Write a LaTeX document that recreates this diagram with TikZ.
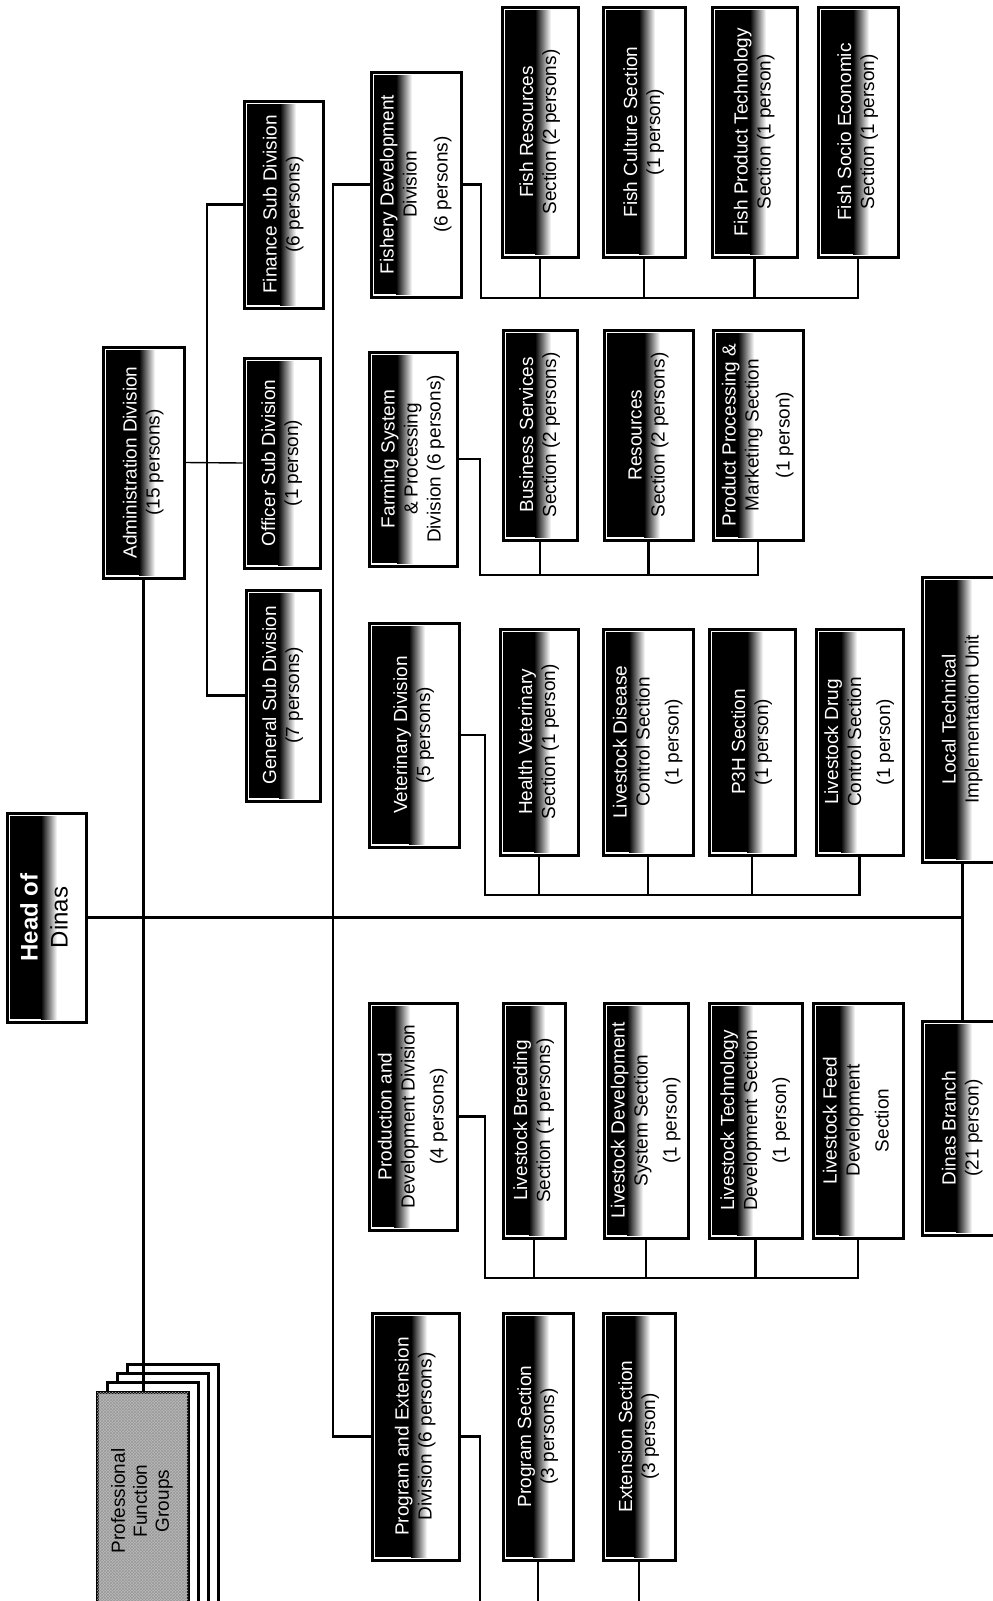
\documentclass[tikz,border=0pt]{standalone}
\usepackage{fontspec}
\setmainfont{Liberation Sans}
\usepackage{graphicx}
\usetikzlibrary{patterns,calc}
\newcommand\rtxt[1]{\rotatebox{90}{\begin{tabular}{@{}c@{}}#1\end{tabular}}}
\newcommand\wt[1]{\textcolor{white}{#1}}
% #1 options, #2 name, #3 x1, #4 y1, #5 x2, #6 y2, #7 black width, #8 text
\newcommand\orgbox[8][]{%
  \fill[boxblack] ({#3+3},{#4+3}) rectangle ({#3+3+#7},{#6-3});
  \shade[boxfade] ({#3+3+#7},{#4+3}) rectangle ({#3+19+#7},{#6-3});
  \node[orgnode,minimum width={#5-#3},minimum height={#6-#4},#1] (#2) at ({(#3+#5)/2},{(#4+#6)/2}) {\rtxt{#8}};
}
\begin{document}
\begin{tikzpicture}[x=1pt,y=-1pt,
  boxblack/.style={fill=black},
  boxfade/.style={left color=black,right color=white},
  orgnode/.style={rectangle,draw,line width=3pt,inner sep=0pt,font={\fontsize{19}{23}\selectfont}},
  headfont/.style={font={\fontsize{24}{30}\selectfont}},
  pfglayer/.style={rectangle,draw,line width=3pt,fill=white,inner sep=0pt},
  pfgfront/.style={rectangle,draw,line width=3pt,fill=gray!55,postaction={pattern=crosshatch,pattern color=black!40},inner sep=0pt,font={\fontsize{19}{22}\selectfont}},
  conn/.style={line width=2.6pt},
  thinc/.style={line width=1.4pt}]
\useasboundingbox (0,0) rectangle (993,1601);
\fill[white] (0,0) rectangle (993,1601);

% Head
\orgbox[headfont]{head}{7}{813}{86}{1022}{31}{\wt{\bfseries Head of}\\Dinas}

% Administration
\orgbox{admin}{103}{347}{184}{578}{33}{\wt{Administration Division}\\(15 persons)}
\orgbox{finance}{244}{101}{323}{308}{33}{\wt{Finance Sub Division}\\(6 persons)}
\orgbox{officer}{244}{358}{320}{568}{31}{\wt{Officer Sub Division}\\(1 person)}
\orgbox{general}{246}{590}{320}{801}{30}{\wt{General Sub Division}\\(7 persons)}

% Professional function groups
\node[pfglayer,minimum width=91,minimum height=240] (pfg3) at (172.5,1484) {};
\node[pfglayer,minimum width=91,minimum height=240] (pfg2) at (162.5,1493) {};
\node[pfglayer,minimum width=91,minimum height=240] (pfg1) at (152.5,1502) {};
\node[pfgfront,minimum width=91,minimum height=218] (pfg) at (142.5,1501) {\rtxt{Professional\\Function\\Groups}};

% Divisions
\orgbox{fishery}{371}{72}{461}{297}{22}{\wt{Fishery Development}\\Division\\[8pt](6 persons)}
\orgbox{farming}{369}{352}{457}{566}{25}{\wt{Farming System}\\\& Processing\\Division (6 persons)}
\orgbox{vet}{369}{623}{459}{847}{37}{\wt{Veterinary Division}\\(5 persons)}
\orgbox{prod}{369}{1003}{457}{1230}{22}{\wt{Production and}\\Development Division\\[6pt](4 persons)}
\orgbox{prog}{372}{1313}{459}{1560}{36}{\wt{Program and Extension}\\Division (6 persons)}

% Fishery sections
\orgbox{fres}{502}{7}{578}{257}{30}{\wt{Fish Resources}\\Section (2 persons)}
\orgbox{fcul}{603}{7}{685}{257}{33}{\wt{Fish Culture Section}\\(1 person)}
\orgbox{fprod}{712}{7}{797}{257}{35}{\wt{Fish Product Technology}\\Section (1 person)}
\orgbox{fsoc}{818}{7}{898}{257}{32}{\wt{Fish Socio Economic}\\Section (1 person)}

% Farming sections
\orgbox{bus}{503}{330}{577}{540}{29}{\wt{Business Services}\\Section (2 persons)}
\orgbox{res}{604}{330}{693}{540}{37}{\wt{Resources}\\Section (2 persons)}
\orgbox{ppm}{713}{330}{803}{540}{22}{\wt{Product Processing \&}\\Marketing Section\\[8pt](1 person)}

% Veterinary sections
\orgbox{hv}{500}{629}{578}{855}{31}{\wt{Health Veterinary}\\Section (1 person)}
\orgbox{ldc}{603}{629}{693}{855}{23}{\wt{Livestock Disease}\\Control Section\\[6pt](1 person)}
\orgbox{p3h}{709}{629}{795}{855}{35}{\wt{P3H Section}\\(1 person)}
\orgbox{ldrug}{816}{629}{903}{855}{22}{\wt{Livestock Drug}\\Control Section\\[6pt](1 person)}

% Production sections
\orgbox{lb}{503}{1003}{565}{1238}{23}{\wt{Livestock Breeding}\\Section (1 persons)}
\orgbox{lds}{604}{1003}{688}{1238}{20}{\wt{Livestock Development}\\System Section\\[6pt](1 person)}
\orgbox{ltd}{709}{1003}{802}{1238}{25}{\wt{Livestock Technology}\\Development Section\\[6pt](1 person)}
\orgbox{lfd}{813}{1003}{903}{1238}{23}{\wt{Livestock Feed}\\Development\\[6pt]Section}

% Program sections
\orgbox{ps}{503}{1313}{573}{1560}{27}{\wt{Program Section}\\(3 persons)}
\orgbox{es}{603}{1313}{675}{1560}{28}{\wt{Extension Section}\\(3 person)}

% Right column
\orgbox{ltiu}{922}{577}{1003}{862}{31}{\wt{Local Technical}\\Implementation Unit}
\orgbox{branch}{922}{1021}{1003}{1235}{31}{\wt{Dinas Branch}\\(21 person)}

% Connectors
\draw[conn] (head.east) -- (head.east -| ltiu.south);
\draw[conn] (ltiu.south) -- (branch.north);
\draw[conn] (admin.south) -- (admin.south |- pfg.north);
\draw[thinc] (admin.east) -- (officer.west);
\coordinate (sv) at (207,0);
\draw[conn] (finance.west) -- (finance.west -| sv) |- (general.west);
\coordinate (dv) at (333,0);
\draw[conn] (fishery.west) -- (fishery.west -| dv) |- (prog.west);

\coordinate (fb) at (481,298);
\draw[conn] (fishery.east) -- (fishery.east -| fb) |- (fsoc.south |- fb) -- (fsoc.south);
\foreach \n in {fres,fcul,fprod} \draw[conn] (\n.south) -- (\n.south |- fb);

\coordinate (mb) at (480,575);
\draw[conn] (farming.east) -- (farming.east -| mb) |- (ppm.south |- mb) -- (ppm.south);
\foreach \n in {bus,res} \draw[conn] (\n.south) -- (\n.south |- mb);

\coordinate (vb) at (485,895);
\draw[conn] (vet.east) -- (vet.east -| vb) |- (ldrug.south |- vb) -- (ldrug.south);
\foreach \n in {hv,ldc,p3h} \draw[conn] (\n.south) -- (\n.south |- vb);

\coordinate (pb) at (485,1278);
\draw[conn] (prod.east) -- (prod.east -| pb) |- (lfd.south |- pb) -- (lfd.south);
\foreach \n in {lb,lds,ltd} \draw[conn] (\n.south) -- (\n.south |- pb);

\coordinate (gb) at (480,1612);
\draw[conn] (prog.east) -- (prog.east -| gb) -- (gb);
\foreach \n in {ps,es} \draw[conn] (\n.south) -- (\n.south |- gb);
\end{tikzpicture}
\end{document}
